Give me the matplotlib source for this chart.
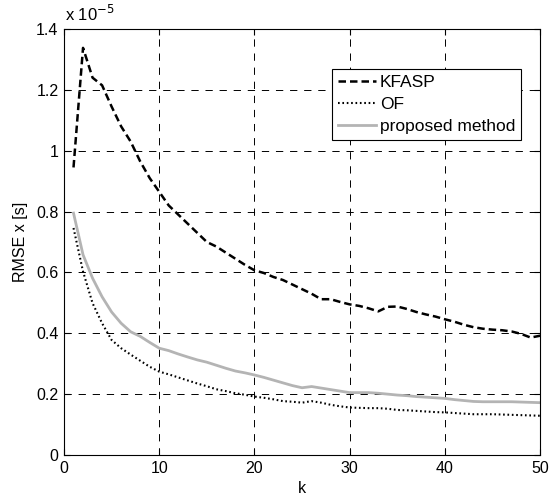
import matplotlib
matplotlib.use("Agg")
import matplotlib.pyplot as plt
import numpy as np
from matplotlib.ticker import FuncFormatter

plt.rcParams['font.family'] = ['Liberation Sans', 'DejaVu Sans']

k = list(range(1, 51))
# values in units of 1e-5 s
kfasp = [0.945, 1.338, 1.24, 1.215, 1.145, 1.08, 1.03, 0.965, 0.91, 0.865,
         0.82, 0.79, 0.76, 0.73, 0.70, 0.685, 0.665, 0.645, 0.625, 0.607,
         0.598, 0.585, 0.575, 0.56, 0.545, 0.53, 0.512, 0.512, 0.503, 0.495,
         0.49, 0.482, 0.472, 0.487, 0.488, 0.48, 0.47, 0.462, 0.455, 0.446,
         0.438, 0.428, 0.42, 0.415, 0.412, 0.41, 0.406, 0.398, 0.386, 0.392]
of = [0.746, 0.603, 0.499, 0.433, 0.378, 0.351, 0.33, 0.31, 0.29, 0.274,
      0.265, 0.255, 0.245, 0.235, 0.226, 0.216, 0.21, 0.203, 0.198, 0.192,
      0.188, 0.183, 0.177, 0.175, 0.172, 0.177, 0.172, 0.165, 0.16, 0.156,
      0.155, 0.154, 0.154, 0.152, 0.148, 0.147, 0.145, 0.143, 0.141, 0.14,
      0.138, 0.136, 0.134, 0.134, 0.134, 0.133, 0.132, 0.131, 0.13, 0.129]
proposed = [0.795, 0.658, 0.581, 0.52, 0.47, 0.433, 0.405, 0.39, 0.37, 0.351,
            0.343, 0.332, 0.322, 0.3125, 0.305, 0.295, 0.285, 0.276, 0.27, 0.263,
            0.255, 0.246, 0.237, 0.228, 0.221, 0.225, 0.22, 0.215, 0.21, 0.205,
            0.205, 0.205, 0.203, 0.2, 0.197, 0.195, 0.192, 0.19, 0.188, 0.186,
            0.182, 0.179, 0.176, 0.175, 0.175, 0.175, 0.175, 0.174, 0.173, 0.172]

labels = ['KFASP', 'OF', 'proposed method']
scale = 1e-5

fig = plt.figure(figsize=(5.54, 4.95), dpi=100)
ax = fig.add_axes([0.1155, 0.0808, 0.8595, 0.8606])

ax.plot(k, np.array(kfasp) * scale, color='black', lw=1.8, ls=(0, (3.0, 1.6)), label=labels[0])
ax.plot(k, np.array(of) * scale, color='black', lw=1.5, ls=(0, (0.8, 1.3)), label=labels[1])
ax.plot(k, np.array(proposed) * scale, color='#b4b4b4', lw=2.0, ls='-', label=labels[2])

ax.set_xlim(0, 50)
ax.set_ylim(0, 1.4e-5)
ax.set_xticks([0, 10, 20, 30, 40, 50])
ax.set_yticks(np.arange(0, 1.41, 0.2) * scale)
ax.yaxis.set_major_formatter(FuncFormatter(lambda v, p: f"{v / scale:.10g}" if abs(v) > 1e-12 else "0"))
ax.yaxis.get_offset_text().set_visible(False)

ax.grid(True, color='black', ls=(0, (7.5, 7.0)), lw=0.7)
ax.tick_params(direction='in', length=4, width=0.8, labelsize=11.5, top=True, right=True, pad=4)
for s in ax.spines.values():
    s.set_linewidth(0.8)

ax.text(0.002, 1.012, 'x 10$^{-5}$', transform=ax.transAxes, fontsize=12, ha='left', va='bottom')
ax.set_xlabel('k', fontsize=11.5, labelpad=4)
ax.set_ylabel('RMSE x [s]', fontsize=11.5, labelpad=6)

leg = ax.legend(loc='upper right', bbox_to_anchor=(0.96, 0.906), fontsize=12.5,
                fancybox=False, framealpha=1, edgecolor='black', handlelength=2.2,
                borderpad=0.35, labelspacing=0.38, handletextpad=0.22, borderaxespad=0)
leg.get_frame().set_linewidth(0.8)

fig.savefig('out.png', dpi=100)
